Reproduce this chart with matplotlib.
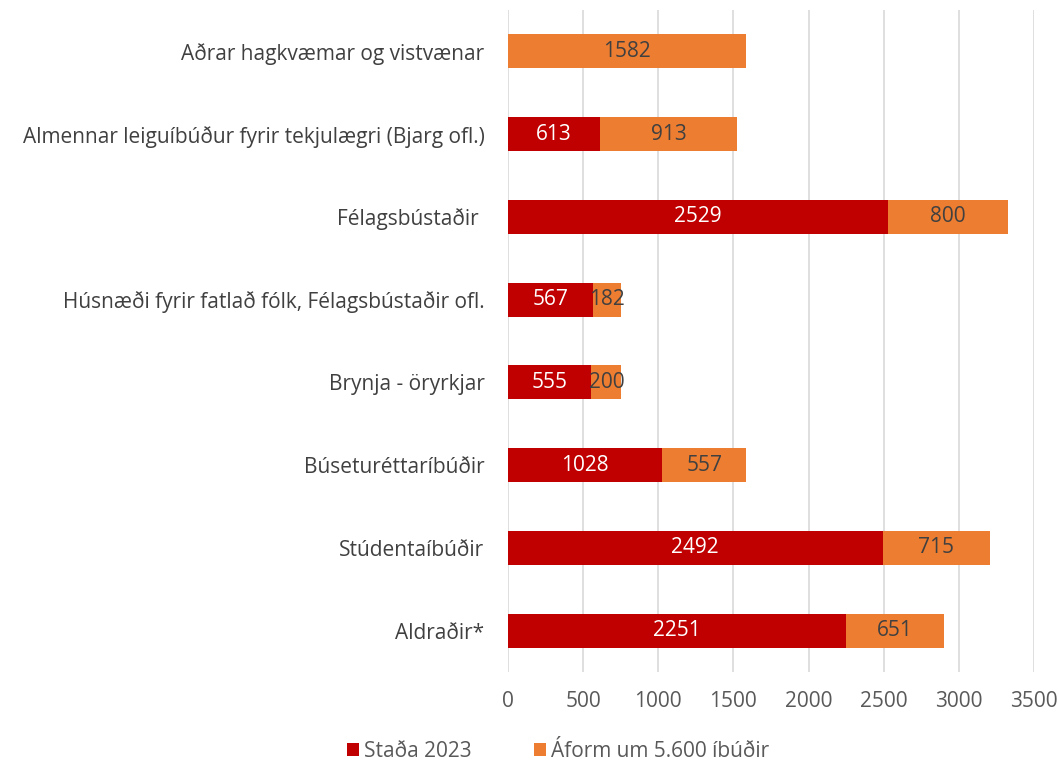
import matplotlib.pyplot as plt
import numpy as np

# Data (bottom to top as in the chart)
categories = [
    "Aldraðir*",
    "Stúdentaíbúðir",
    "Búseturéttaríbúðir",
    "Brynja - öryrkjar",
    "Húsnæði fyrir fatlað fólk, Félagsbústaðir ofl.",
    "Félagsbústaðir ",
    "Almennar leiguíbúður fyrir tekjulægri (Bjarg ofl.)",
    "Aðrar hagkvæmar og vistvænar",
]
stada_2023 = [2251, 2492, 1028, 555, 567, 2529, 613, 0]
aform = [651, 715, 557, 200, 182, 800, 913, 1582]
xticks = [0, 500, 1000, 1500, 2000, 2500, 3000, 3500]

red = "#C00000"
orange = "#ED7D31"
grey_text = "#595959"

plt.rcParams["font.family"] = ["Open Sans", "DejaVu Sans"]
fs = 15

fig = plt.figure(figsize=(10.59, 7.64), dpi=100)
ax = fig.add_axes([0.4797, 0.1204, 0.4967, 0.8666])

y = np.arange(len(categories))
h = 0.41
ax.barh(y, stada_2023, height=h, color=red, label="Staða 2023", zorder=3)
ax.barh(y, aform, left=stada_2023, height=h, color=orange,
        label="Áform um 5.600 íbúðir", zorder=3)

# value labels
for i in range(len(categories)):
    if stada_2023[i] > 0:
        ax.text(stada_2023[i] / 2, y[i], str(stada_2023[i]), ha="center",
                va="center", color="white", fontsize=fs, zorder=4)
    ax.text(stada_2023[i] + aform[i] / 2, y[i], str(aform[i]), ha="center",
            va="center", color="#404040", fontsize=fs, zorder=4)

ax.set_xlim(0, 3500)
ax.set_ylim(-0.5, len(categories) - 0.5)
ax.set_xticks(xticks)
ax.set_yticks(y)
ax.set_yticklabels(categories, fontsize=fs, color="#404040")
ax.tick_params(axis="x", labelsize=fs, labelcolor=grey_text, length=0, pad=14)
ax.tick_params(axis="y", length=0, pad=17)
ax.grid(axis="x", color="#D9D9D9", linewidth=1.2, zorder=0)
for s in ax.spines.values():
    s.set_visible(False)

fig.legend(loc="lower center", bbox_to_anchor=(0.527, -0.022), ncol=2,
           frameon=False, fontsize=fs, handlelength=0.55, handleheight=0.55,
           handletextpad=0.25, columnspacing=3.0, labelcolor=grey_text)

fig.savefig("out.png", dpi=100)
